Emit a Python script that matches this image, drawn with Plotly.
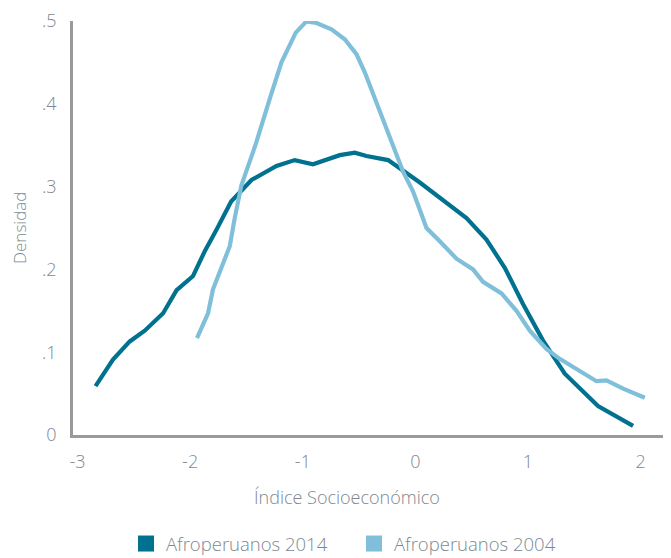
import plotly.graph_objects as go

# Afroperuanos 2014 (dark)
x_2014 = [-2.84, -2.685, -2.536, -2.403, -2.24, -2.12, -1.974, -1.87, -1.766, -1.636,
          -1.455, -1.233, -1.071, -0.909, -0.671, -0.538, -0.434, -0.242, 0.04, 0.232,
          0.454, 0.631, 0.794, 0.957, 1.134, 1.327, 1.622, 1.933]
y_2014 = [0.059, 0.091, 0.113, 0.126, 0.147, 0.175, 0.192, 0.222, 0.248, 0.282,
          0.308, 0.325, 0.332, 0.327, 0.338, 0.341, 0.337, 0.332, 0.305, 0.285,
          0.262, 0.236, 0.202, 0.158, 0.114, 0.074, 0.035, 0.011]

# Afroperuanos 2004 (light)
x_2004 = [-1.939, -1.841, -1.797, -1.648, -1.604, -1.544, -1.441, -1.411, -1.293, -1.189,
          -1.062, -0.967, -0.878, -0.745, -0.627, -0.523, -0.449, -0.345, -0.227, -0.109,
          -0.02, 0.099, 0.217, 0.365, 0.512, 0.601, 0.765, 0.898, 1.016, 1.164,
          1.282, 1.46, 1.608, 1.697, 1.845, 2.037]
y_2004 = [0.117, 0.147, 0.176, 0.228, 0.262, 0.302, 0.342, 0.354, 0.406, 0.45,
          0.486, 0.4996, 0.4976, 0.49, 0.478, 0.46, 0.438, 0.402, 0.362, 0.318,
          0.294, 0.25, 0.234, 0.213, 0.2, 0.185, 0.171, 0.15, 0.126, 0.104,
          0.092, 0.077, 0.065, 0.066, 0.056, 0.045]

series_names = ["Afroperuanos 2014", "Afroperuanos 2004"]
x_ticks = [-3, -2, -1, 0, 1, 2]
x_ticklabels = ["-3", "-2", "-1", "0", "1", "2"]
y_ticks = [0, 0.1, 0.2, 0.3, 0.4, 0.5]
y_ticklabels = ["0", ".1", ".2", ".3", ".4", ".5"]
x_title = "Índice Socioeconómico"
y_title = "Densidad"

DARK = "#00718f"
LIGHT = "#80bfda"
TEXT = "#7d8891"
AXIS = "#9a9a9a"
FONT = "Open Sans"

# page has an 8px body offset; figure is sized to fill the rest of the window
W, H = 663, 550

fig = go.Figure()
fig.add_trace(go.Scatter(x=x_2014, y=y_2014, mode="lines", showlegend=False,
                         line=dict(color=DARK, width=4.2), cliponaxis=False))
fig.add_trace(go.Scatter(x=x_2004, y=y_2004, mode="lines", showlegend=False,
                         line=dict(color=LIGHT, width=4.2), cliponaxis=False))
# legend entries (square swatches)
for name, col in zip(series_names, [DARK, LIGHT]):
    fig.add_trace(go.Scatter(x=[None], y=[None], mode="markers", name=name,
                             marker=dict(symbol="square", size=16, color=col)))

fig.update_layout(
    width=W, height=H,
    margin=dict(l=65, r=0, t=10, b=123),
    paper_bgcolor="white", plot_bgcolor="white",
    font=dict(family=FONT, color=TEXT, size=17, weight=300),
    showlegend=True,
    legend=dict(orientation="h", xref="container", yref="container",
                x=118 / W, xanchor="left", y=1 - 536 / H, yanchor="middle",
                entrywidth=183, entrywidthmode="pixels",
                font=dict(size=18.5, color=TEXT, family=FONT, weight=300),
                itemclick=False, traceorder="normal"),
    xaxis=dict(range=[-3.04, 2.27], tickvals=x_ticks, ticktext=x_ticklabels,
               showgrid=False, zeroline=False, showline=True, linecolor=AXIS,
               linewidth=2.5, ticks="", ticklabelstandoff=9,
               ticklabeloverflow="allow",
               tickfont=dict(size=18, color=TEXT)),
    yaxis=dict(range=[0, 0.5], tickvals=y_ticks, ticktext=y_ticklabels,
               showgrid=False, zeroline=False, showline=True, linecolor=AXIS,
               linewidth=2.5, ticks="", ticklabelstandoff=10,
               ticklabeloverflow="allow",
               tickfont=dict(size=18, color=TEXT)),
    annotations=[
        dict(text=x_title, xref="paper", yref="paper",
             x=(347 - 73) / 598, y=-0.149, xanchor="center", yanchor="middle",
             showarrow=False, font=dict(size=18, color=TEXT)),
        dict(text=y_title, xref="paper", yref="paper", textangle=-90,
             x=-(73 - 19) / 598, y=0.5, xanchor="center", yanchor="middle",
             showarrow=False, font=dict(size=17, color=TEXT)),
    ],
)

fig.write_html("out.html")
